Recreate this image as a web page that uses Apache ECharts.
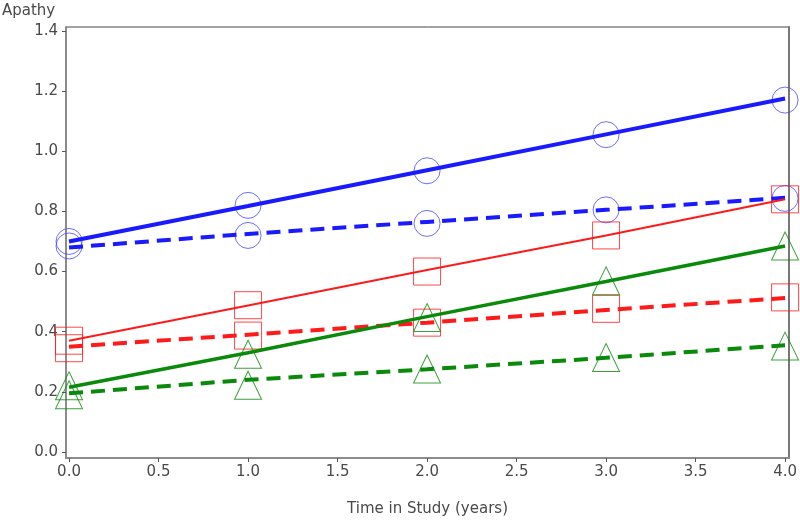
<!DOCTYPE html>
<html>
<head>
<meta charset="utf-8">
<script src="https://cdn.jsdelivr.net/npm/echarts@6/dist/echarts.min.js"></script>
<style>
  html, body { margin: 0; padding: 0; background: #fff; }
  #chart { width: 800px; height: 522px; }
</style>
</head>
<body>
<div id="chart"></div>
<script>
// time points (years)
const years = [0, 1, 2, 3, 4];
const xTicks = [0, 0.5, 1, 1.5, 2, 2.5, 3, 3.5, 4];
const yTicks = [0, 0.2, 0.4, 0.6, 0.8, 1.0, 1.2, 1.4];

// observed means (markers)
const blueObsA = [0.70, 0.82, 0.935, 1.055, 1.17];
const blueObsB = [0.685, 0.72, 0.76, 0.805, 0.843];
const redObsA = [0.37, 0.488, 0.60, 0.72, 0.84];
const redObsB = [0.345, 0.387, 0.43, 0.476, 0.514];
const greenObsA = [0.22, 0.325, 0.447, 0.569, 0.685];
const greenObsB = [0.19, 0.222, 0.276, 0.314, 0.352];

// fitted trajectories (lines)
const blueFit = [0.70, 0.818, 0.937, 1.056, 1.175];
const blueFitDash = [0.68, 0.725, 0.765, 0.805, 0.845];
const redFit = [0.37, 0.487, 0.605, 0.72, 0.84];
const redFitDash = [0.35, 0.39, 0.43, 0.472, 0.512];
const greenFit = [0.215, 0.33, 0.45, 0.567, 0.685];
const greenFitDash = [0.195, 0.24, 0.275, 0.313, 0.355];

const BLUE = "#1a1aff";
const RED = "#ff1a1a";
const GREEN = "#0a8a0a";
const FONT = "DejaVu Sans";
const TXT = "#4a4a4a";

const pairs = arr => years.map((x, i) => [x, arr[i]]);

function fitLine(data, color, width, dashed) {
    return {
        type: "line",
        data: pairs(data),
        showSymbol: false,
        silent: true,
        z: 3,
        lineStyle: { color: color, width: width, type: dashed ? [14, 8] : "solid" }
    };
}

function marks(data, symbol, size, color) {
    return {
        type: "scatter",
        data: pairs(data),
        symbol: symbol,
        symbolSize: size,
        z: 2,
        itemStyle: { color: "rgba(0,0,0,0)", borderColor: color, borderWidth: 1 }
    };
}

const chart = echarts.init(document.getElementById("chart"));

chart.setOption({
    backgroundColor: "#fff",
    animation: false,
    title: {
        text: "Apathy",
        left: 2,
        top: 4,
        padding: 0,
        textStyle: { fontFamily: FONT, fontSize: 15, fontWeight: "normal", color: TXT }
    },
    grid: {
        left: 66, right: 8, top: 27, bottom: 64,
        show: true, borderColor: "#444", borderWidth: 1, backgroundColor: "transparent"
    },
    xAxis: {
        type: "value",
        min: -0.017,
        max: 4.022,
        name: "Time in Study (years)",
        nameLocation: "middle",
        nameGap: 44,
        nameTextStyle: { fontFamily: FONT, fontSize: 15, color: TXT },
        splitLine: { show: false },
        axisLine: { onZero: false, lineStyle: { color: "#8c8c8c", width: 2 } },
        axisTick: { customValues: xTicks, length: 4, lineStyle: { color: "#555" } },
        axisLabel: {
            customValues: xTicks,
            formatter: v => v.toFixed(1),
            fontFamily: FONT, fontSize: 15, color: TXT, margin: 7
        }
    },
    yAxis: [
        {
            type: "value",
            min: -0.02,
            max: 1.413,
            splitLine: { show: false },
            axisLine: { show: true, onZero: false, lineStyle: { color: "#8c8c8c", width: 2 } },
            axisTick: { show: true, customValues: yTicks, length: 4, lineStyle: { color: "#555" } },
            axisLabel: {
                customValues: yTicks,
                formatter: v => v.toFixed(1),
                fontFamily: FONT, fontSize: 15, color: TXT, margin: 8
            }
        },
        {
            // right frame edge
            type: "value",
            position: "right",
            min: -0.02,
            max: 1.413,
            splitLine: { show: false },
            axisLine: { show: true, onZero: false, lineStyle: { color: "#777", width: 2 } },
            axisTick: { show: false },
            axisLabel: { show: false }
        }
    ],
    series: [
        marks(blueObsA, "circle", 26, "#4a4aff"),
        marks(blueObsB, "circle", 26, "#4a4aff"),
        marks(redObsA, "rect", 27, RED),
        marks(redObsB, "rect", 27, RED),
        marks(greenObsA, "triangle", [27, 28], GREEN),
        marks(greenObsB, "triangle", [27, 28], GREEN),
        fitLine(blueFit, BLUE, 4, false),
        fitLine(blueFitDash, BLUE, 4, true),
        fitLine(redFit, RED, 2, false),
        fitLine(redFitDash, RED, 4, true),
        fitLine(greenFit, GREEN, 3.5, false),
        fitLine(greenFitDash, GREEN, 4, true)
    ]
});

window.addEventListener("resize", () => chart.resize());
</script>
</body>
</html>
